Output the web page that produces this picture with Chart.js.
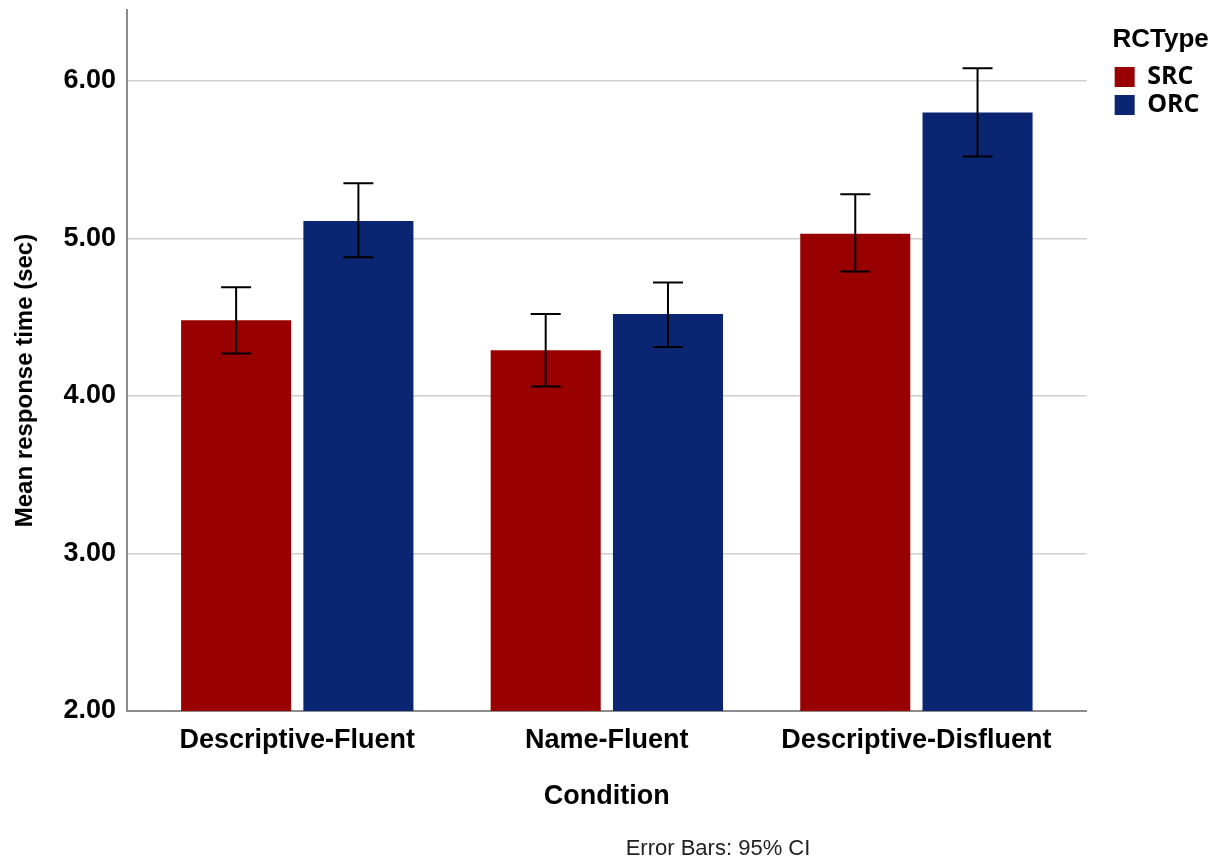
<!DOCTYPE html>
<html>
<head>
<meta charset="utf-8">
<script src="https://cdn.jsdelivr.net/npm/chart.js@4.4.1/dist/chart.umd.min.js"></script>
<style>
  html, body { margin: 0; padding: 0; background: #fff; }
  #wrap { width: 1218px; height: 863px; }
</style>
</head>
<body>
<div id="wrap"><canvas id="rtChart" width="1218" height="863"></canvas></div>
<script>
var categories = ['Descriptive-Fluent', 'Name-Fluent', 'Descriptive-Disfluent'];
var srcMeans = [4.48, 4.29, 5.03];
var srcLower = [4.27, 4.06, 4.79];
var srcUpper = [4.69, 4.52, 5.28];
var orcMeans = [5.11, 4.52, 5.80];
var orcLower = [4.88, 4.31, 5.52];
var orcUpper = [5.35, 4.72, 6.08];
var yTicks = [2, 3, 4, 5, 6];

var FONT = "'Liberation Sans', Arial, sans-serif";

function toPoints(values) {
  return values.map(function (v, i) { return { x: i, y: v }; });
}

// draws the 95% CI whiskers on top of each bar
var errorBars = {
  id: 'errorBars',
  afterDatasetsDraw: function (chart) {
    var ctx = chart.ctx;
    var yScale = chart.scales.y;
    chart.data.datasets.forEach(function (ds, di) {
      var meta = chart.getDatasetMeta(di);
      meta.data.forEach(function (bar, i) {
        var top = yScale.getPixelForValue(ds.upper[i]);
        var bot = yScale.getPixelForValue(ds.lower[i]);
        ctx.save();
        ctx.strokeStyle = '#000';
        ctx.lineWidth = 2;
        ctx.beginPath();
        ctx.moveTo(bar.x, top); ctx.lineTo(bar.x, bot);
        ctx.moveTo(bar.x - 15, top); ctx.lineTo(bar.x + 15, top);
        ctx.moveTo(bar.x - 15, bot); ctx.lineTo(bar.x + 15, bot);
        ctx.stroke();
        ctx.restore();
      });
    });
  }
};

var footNote = {
  id: 'footNote',
  afterDraw: function (chart) {
    var ctx = chart.ctx;
    ctx.save();
    ctx.font = '22px ' + FONT;
    ctx.fillStyle = '#222';
    ctx.textAlign = 'center';
    ctx.textBaseline = 'alphabetic';
    ctx.fillText('Error Bars: 95% CI', 718, 855);
    ctx.restore();
  }
};

new Chart(document.getElementById('rtChart').getContext('2d'), {
  type: 'bar',
  data: {
    datasets: [{
      label: 'SRC',
      data: toPoints(srcMeans),
      upper: srcUpper,
      lower: srcLower,
      backgroundColor: '#990000',
      borderWidth: 0
    }, {
      label: 'ORC',
      data: toPoints(orcMeans),
      upper: orcUpper,
      lower: orcLower,
      backgroundColor: '#0a2672',
      borderWidth: 0
    }]
  },
  options: {
    responsive: false,
    animation: false,
    categoryPercentage: 0.79,
    barPercentage: 0.9,
    layout: { padding: { top: 10, left: 0, right: 8.5, bottom: 40 } },
    plugins: {
      legend: {
        position: 'right',
        align: 'start',
        title: {
          display: true,
          text: 'RCType',
          color: '#000',
          font: { family: FONT, size: 26, weight: 'bold' },
          padding: { top: 17, bottom: 3.3 }
        },
        labels: {
          boxWidth: 20,
          boxHeight: 20,
          padding: 3,
          color: '#000',
          font: { family: "'Open Sans', sans-serif", size: 25, weight: 'bold' }
        }
      },
      tooltip: { enabled: false }
    },
    scales: {
      x: {
        type: 'linear',
        offset: false,
        min: -0.55,
        max: 2.55,
        afterBuildTicks: function (s) {
          s.ticks = categories.map(function (c, i) { return { value: i }; });
        },
        afterFit: function (s) { s.height = 112; s.paddingLeft = 0; s.paddingRight = 0; },
        grid: { drawOnChartArea: false, drawTicks: false },
        border: { display: true, color: '#8c8c8c', width: 2 },
        ticks: {
          autoSkip: false,
          maxRotation: 0,
          padding: 13,
          color: '#000',
          font: { family: FONT, size: 27, weight: 'bold' },
          callback: function (v) { return categories[v]; }
        },
        title: {
          display: true,
          text: 'Condition',
          color: '#000',
          font: { family: FONT, size: 27, weight: 'bold' },
          padding: { top: 0, bottom: 10 }
        }
      },
      y: {
        min: 2,
        max: 6.45,
        afterBuildTicks: function (s) {
          s.ticks = yTicks.map(function (v) { return { value: v }; });
        },
        afterFit: function (s) { s.width = 127; s.paddingTop = 0; },
        grid: { color: '#cfcfcf', lineWidth: 1.5, drawTicks: false },
        border: { display: true, color: '#8c8c8c', width: 2 },
        ticks: {
          padding: 11,
          color: '#000',
          font: { family: FONT, size: 27, weight: 'bold' },
          callback: function (v) { return v.toFixed(2); }
        },
        title: {
          display: true,
          text: 'Mean response time (sec)      ',
          color: '#000',
          font: { family: FONT, size: 24, weight: 'bold' },
          padding: { top: 11 }
        }
      },
      gap: {
        type: 'linear',
        position: 'right',
        display: true,
        grid: { display: false },
        border: { display: false },
        ticks: { display: false },
        afterFit: function (s) { s.width = 25; }
      }
    }
  },
  plugins: [errorBars, footNote]
});
</script>
</body>
</html>
